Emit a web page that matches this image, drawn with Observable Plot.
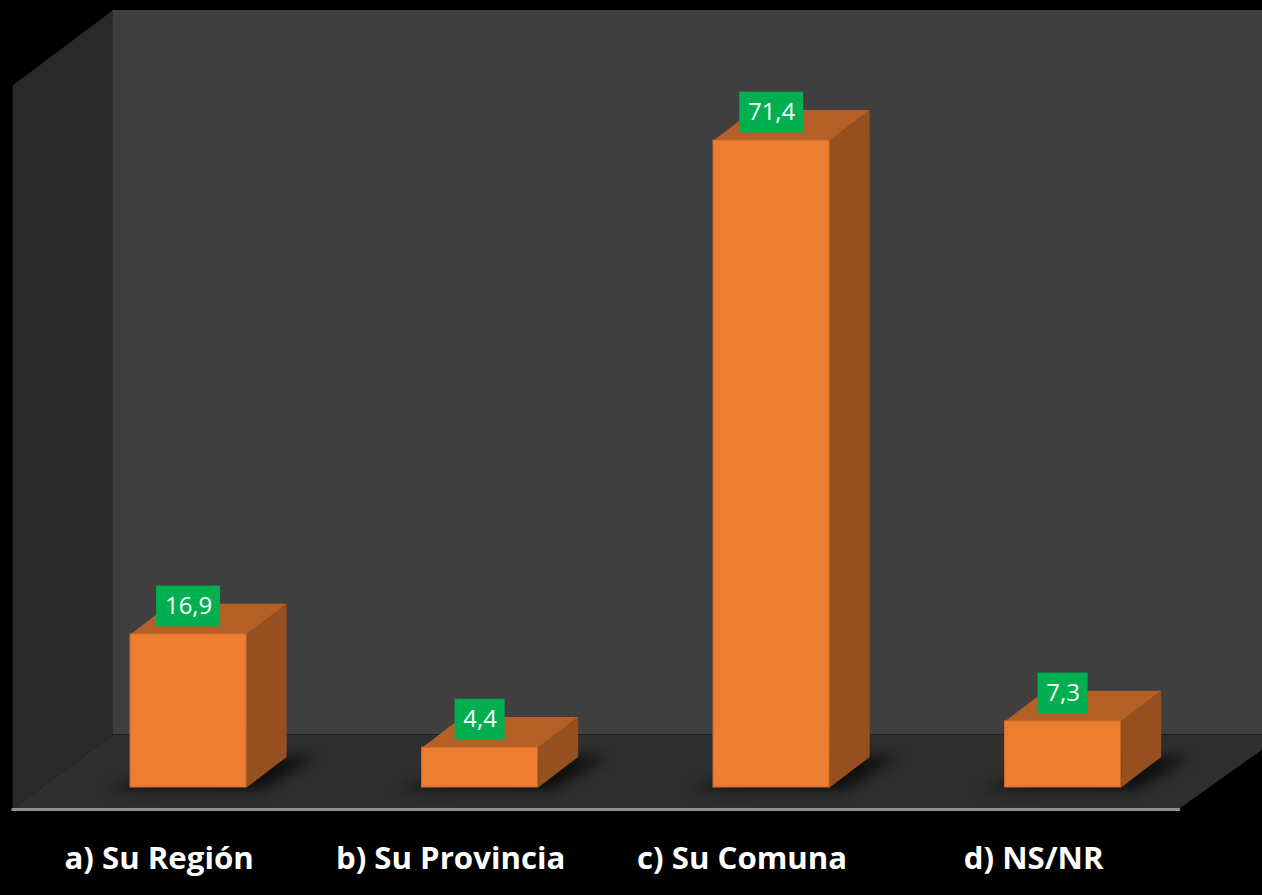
<!DOCTYPE html>
<html lang="es">
<head>
<meta charset="utf-8">
<script src="https://cdn.jsdelivr.net/npm/d3@7"></script>
<script src="https://cdn.jsdelivr.net/npm/@observablehq/plot@0.6"></script>
<style>
html,body{margin:0;padding:0;background:#000;width:1262px;height:895px;overflow:hidden}
svg{display:block}
</style>
</head>
<body>
<div id="chart"></div>
<script>
const categories = ["a) Su Región", "b) Su Provincia", "c) Su Comuna", "d) NS/NR"];
const values = [16.9, 4.4, 71.4, 7.3];

// Chart geometry, in the units of the two scales
const ux = 291.5, uy = 647 / 71.4;        // pixels per unit of x and y
const half = 58.1 / ux;                   // half a bar's width
const deepX = 40 / ux, deepY = 30.6 / uy; // the 3D depth offset
const floorFrontY = -21.5 / uy, floorBackY = 52.5 / uy, rightEdgeY = 39 / uy;
const leftFrontX = -176 / ux, leftBackX = -76 / ux, floorRightX = 990.2 / ux;
const maxX = 1075 / ux, wallTopY = 777 / uy, leftTopY = 702 / uy;

const bars = values.map((v, i) => ({i, v, label: String(v).replace(".", ",")}));
const face = (pts) => bars.flatMap((b) => pts(b).map(([x, y]) => ({i: b.i, x, y})));

const topFaces = face((b) => [[b.i - half, b.v], [b.i + half, b.v], [b.i + half + deepX, b.v + deepY], [b.i - half + deepX, b.v + deepY]]);
const sideFaces = face((b) => [[b.i + half, 0], [b.i + half + deepX, deepY], [b.i + half + deepX, b.v + deepY], [b.i + half, b.v]]);
const shadows = face((b) => [[b.i - 84 / ux, -2 / uy], [b.i + 72 / ux, -3 / uy], [b.i + 128 / ux, 31 / uy], [b.i + 60 / ux, 31 / uy], [b.i - 40 / ux, 10 / uy]]);

const leftWall = [[leftFrontX, floorFrontY], [leftBackX, floorBackY], [leftBackX, wallTopY], [leftFrontX, leftTopY]];
const floor = [[leftFrontX, floorFrontY], [leftBackX, floorBackY], [maxX, floorBackY], [maxX, rightEdgeY], [floorRightX, floorFrontY]];
const baseLine = [[leftFrontX, floorFrontY], [floorRightX, floorFrontY]];

const boxW = (b) => (b.label.length * 14 + 8) / ux / 2;
const boxMid = (b) => b.v + 27.9 / uy;
const boxH = 20.4 / uy;

const poly = (rows, opts) => Plot.line(rows, {x: (d) => d[0], y: (d) => d[1], strokeWidth: 0, ...opts});

const plot = Plot.plot({
  width: 1262,
  height: 895,
  marginTop: 0, marginLeft: 0, marginRight: 0, marginBottom: 105,
  style: {background: "transparent", color: "#fff"},
  x: {type: "linear", domain: [0, 3], range: [188.1, 1062.6], axis: null},
  y: {type: "linear", domain: [0, 71.4], range: [787, 140], axis: null},
  marks: [
    Plot.rect([0], {x1: leftBackX, x2: maxX, y1: floorBackY, y2: wallTopY, fill: "#3f3f3f"}),
    poly(leftWall, {fill: "#292929", stroke: "none"}),
    poly(floor, {fill: "#2f2f2f", stroke: "none"}),
    Plot.line(shadows, {x: "x", y: "y", z: "i", fill: "#0e0e0e", stroke: "none", imageFilter: "blur(7px)"}),
    poly(baseLine, {stroke: "#8f8f8f", strokeWidth: 3, dy: 0.5}),
    Plot.line(sideFaces, {x: "x", y: "y", z: "i", fill: "#964f1e", stroke: "none"}),
    Plot.line(topFaces, {x: "x", y: "y", z: "i", fill: "#b35f25", stroke: "none"}),
    Plot.rect(bars, {x1: (b) => b.i - half, x2: (b) => b.i + half, y1: 0, y2: "v", fill: "#ed7d31", stroke: "#c8692a", strokeWidth: 1}),
    Plot.rect(bars, {x1: (b) => b.i - boxW(b), x2: (b) => b.i + boxW(b), y1: (b) => boxMid(b) - boxH, y2: (b) => boxMid(b) + boxH, fill: "#00b050"}),
    Plot.text(bars, {x: "i", y: boxMid, text: "label", fill: "#fff", fontFamily: "Open Sans", fontSize: 24}),
    Plot.axisX({
      ticks: [0, 1, 2, 3],
      tickFormat: (i) => categories[i],
      tickSize: 0,
      tickPadding: 56,
      dx: -29.5,
      anchor: "bottom",
      label: null,
      fill: "#fff",
      fontFamily: "Open Sans",
      fontWeight: 700,
      fontSize: 31.2
    })
  ]
});
document.getElementById("chart").appendChild(plot);
</script>
</body>
</html>
